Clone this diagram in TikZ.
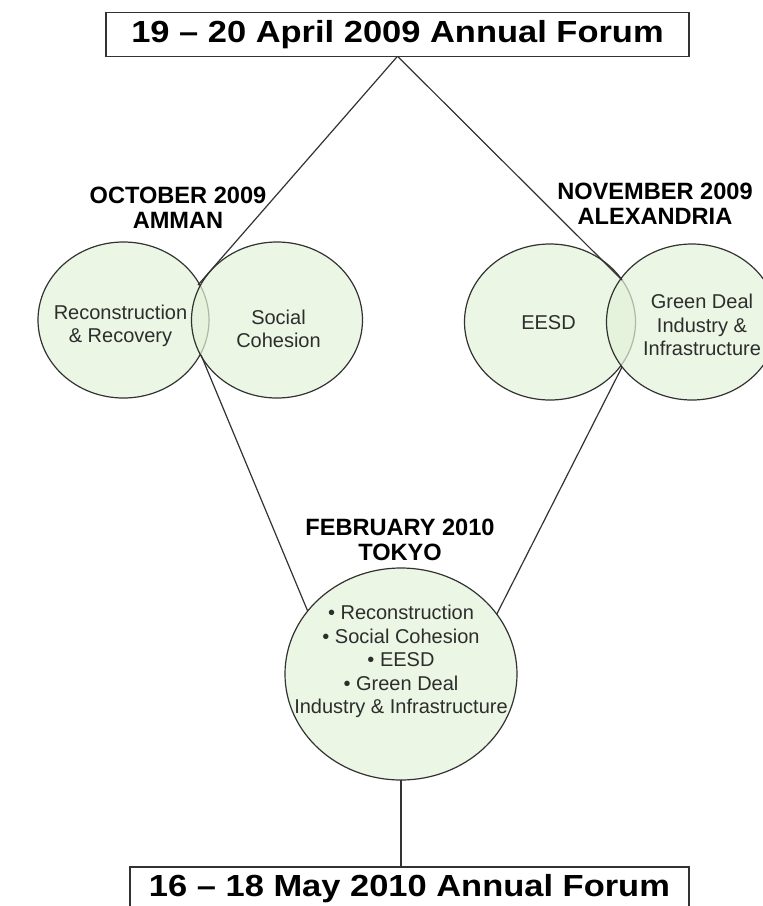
\documentclass[tikz,border=0pt]{standalone}
\usepackage{fontspec}
\setmainfont{Liberation Sans}
\newfontfamily\titlefont[FakeStretch=1.13,Ligatures=TeX]{Liberation Sans}
\usetikzlibrary{shapes.geometric}
\definecolor{cfill}{RGB}{226,242,216}
\definecolor{cline}{RGB}{50,50,50}
\definecolor{ctext}{RGB}{45,45,45}
\begin{document}
\begin{tikzpicture}[x=1pt,y=-1pt,
  forum/.style={draw=cline, line width=1.4pt, fill=white, inner sep=0pt, outer sep=0pt,
    font=\titlefont\bfseries\fontsize{30.5}{36}\selectfont},
  topic/.style={ellipse, draw=cline, line width=1.2pt, fill=cfill, fill opacity=0.7,
    text opacity=1, minimum width=171pt, minimum height=156pt, inner sep=0pt, outer sep=0pt},
  lbl/.style={font=\fontsize{20}{23.5}\selectfont, text=ctext, align=center, inner sep=0pt},
  head/.style={font=\bfseries\fontsize{23.6}{25.5}\selectfont, align=center, inner sep=0pt},
  link/.style={draw=cline, line width=1.2pt}]
\useasboundingbox (0,0) rectangle (763,906);
\clip (0,0) rectangle (763,906);

% forum boxes
\node[forum, minimum width=583pt, minimum height=43.5pt] (top) at (397.5,34.5) {19 – 20 April 2009 Annual Forum};
\node[forum, minimum width=559pt, minimum height=44pt] (bot) at (409.5,889) {16 – 18 May 2010 Annual Forum};

% headings
\node[head] (amman) at (178,208) {OCTOBER 2009\\AMMAN};
\node[head] (alex) at (655,204) {NOVEMBER 2009\\ALEXANDRIA};
\node[head] (tokyoHead) at (400,540) {FEBRUARY 2010\\TOKYO};

% topic circles
\node[topic] (rec) at (123.5,320) {};
\node[topic] (soc) at (277,320) {};
\node[topic] (eesd) at (550,322) {};
\node[topic] (green) at (692,322) {};
\node[topic, minimum width=232pt, minimum height=212pt] (tokyo) at (401,674) {};

% texts
\node[lbl] (recT) at (120.5,326) {Reconstruction\\\& Recovery};
\node[lbl] (socT) at (278.5,329) {Social\\Cohesion};
\node[lbl] (eesdT) at (548.5,323) {EESD};
\node[lbl] (greenT) at (702,325) {Green Deal\\Industry \&\\Infrastructure};
\node[lbl] (tokyoT) at (401,661.5) {• Reconstruction\\• Social Cohesion\\• EESD\\• Green Deal\\Industry \& Infrastructure};

% junctions of overlapping circles
\coordinate (ammanTop) at (198,285);
\coordinate (ammanBot) at (201,355);
\coordinate (alexTop) at (622,280);
\coordinate (alexBot) at (622,367);

% connectors
\draw[link] (top.south) -- (ammanTop);
\draw[link] (top.south) -- (alexTop);
\draw[link] (ammanBot) -- (tokyo.146);
\draw[link] (alexBot) -- (tokyo.32);
\draw[link] (tokyo.south) -- (tokyo.south |- bot.north);
\end{tikzpicture}
\end{document}
